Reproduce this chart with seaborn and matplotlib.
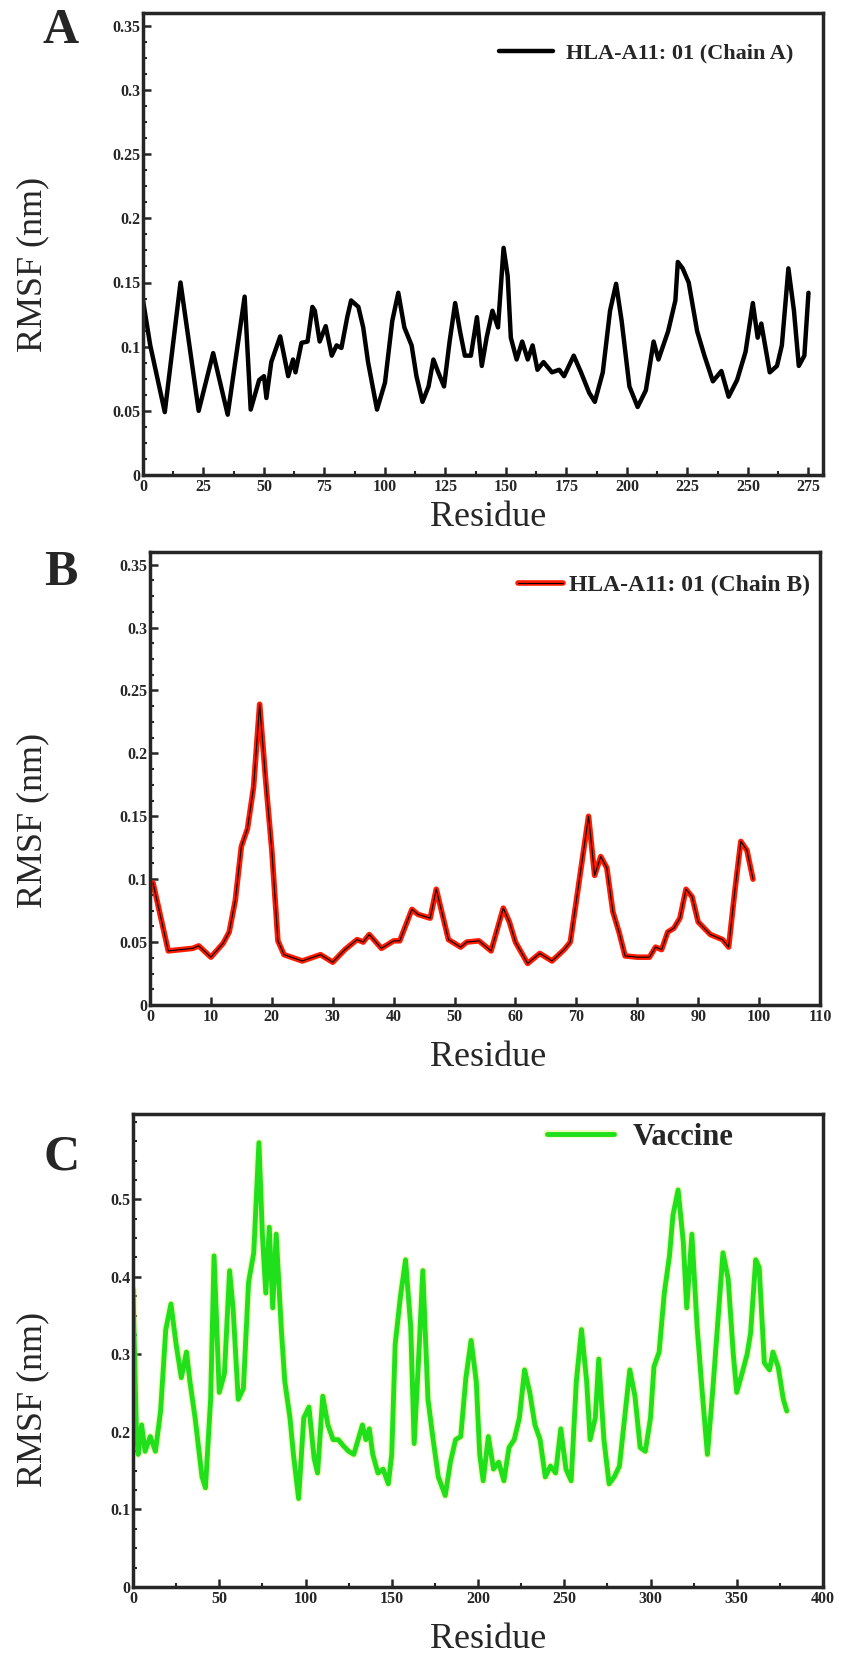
import numpy as np
import pandas as pd
import seaborn as sns
import matplotlib
matplotlib.use("Agg")
import matplotlib.pyplot as plt
from matplotlib.ticker import AutoMinorLocator
import matplotlib.patheffects as pe

# ---------------- data ----------------
a_res = [0, 3, 9, 15.5, 23, 29, 35, 42, 44.5, 48, 50, 51, 53, 56.7, 60, 62, 63, 65.5, 68, 70, 71, 73,
         75.5, 78, 80, 82, 84.4, 86, 89, 91, 93, 96.7, 100, 103, 105.5, 108, 111, 113, 115.5, 118,
         120, 122, 124.4, 126.7, 129, 131, 133, 135.5, 138, 140, 142, 144.4, 146.7, 149, 150.7, 152,
         154.4, 156.7, 159, 161, 163, 165.5, 169, 172, 174, 178, 181, 184.4, 186.7, 190, 193, 195.5,
         197.8, 201, 204.4, 207.8, 211, 213, 217, 220, 221, 223, 225.5, 229, 232, 235.5, 239, 242,
         245.5, 249, 252, 254, 255.5, 259, 262, 264, 266.7, 269, 271, 273.3, 275]
a_rmsf = [0.136, 0.101, 0.049, 0.150, 0.050, 0.095, 0.047, 0.139, 0.051, 0.074, 0.077, 0.060, 0.088,
          0.108, 0.077, 0.090, 0.080, 0.103, 0.104, 0.131, 0.128, 0.104, 0.116, 0.093, 0.101, 0.099,
          0.123, 0.136, 0.131, 0.115, 0.088, 0.051, 0.072, 0.120, 0.142, 0.115, 0.101, 0.077, 0.057,
          0.069, 0.090, 0.080, 0.069, 0.104, 0.134, 0.112, 0.093, 0.093, 0.123, 0.085, 0.107, 0.128,
          0.115, 0.177, 0.155, 0.107, 0.090, 0.104, 0.090, 0.101, 0.082, 0.088, 0.080, 0.082, 0.077,
          0.093, 0.080, 0.064, 0.057, 0.080, 0.128, 0.149, 0.120, 0.069, 0.053, 0.066, 0.104, 0.090,
          0.112, 0.136, 0.166, 0.161, 0.150, 0.112, 0.093, 0.073, 0.081, 0.061, 0.074, 0.096, 0.134,
          0.107, 0.118, 0.080, 0.085, 0.101, 0.161, 0.128, 0.085, 0.093, 0.142]

b_res = [0.5, 3, 5, 7, 8, 10, 12, 13, 14, 15, 16, 17, 18, 19, 20, 21, 22, 25, 28, 30, 32, 34, 35, 36,
         38, 40, 41, 43, 44, 46, 47, 48, 49, 51, 52, 54, 56, 58, 59, 60, 62, 64, 66, 68, 69, 70, 72,
         73, 74, 75, 76, 77, 78, 80, 82, 83, 84, 85, 86, 87, 88, 89, 90, 92, 94, 95, 96, 97, 98, 99]
b_rmsf = [0.097, 0.043, 0.044, 0.045, 0.047, 0.038, 0.049, 0.058, 0.083, 0.126, 0.140, 0.173, 0.239,
          0.178, 0.123, 0.051, 0.040, 0.035, 0.040, 0.034, 0.044, 0.052, 0.050, 0.056, 0.045, 0.051,
          0.051, 0.076, 0.072, 0.069, 0.092, 0.072, 0.052, 0.046, 0.050, 0.051, 0.043, 0.077, 0.066,
          0.050, 0.033, 0.041, 0.035, 0.044, 0.050, 0.083, 0.150, 0.103, 0.118, 0.109, 0.074, 0.058,
          0.039, 0.038, 0.038, 0.046, 0.044, 0.058, 0.061, 0.069, 0.092, 0.086, 0.066, 0.056, 0.052,
          0.046, 0.090, 0.130, 0.123, 0.100]

c_res = [0, 2, 3, 5, 7, 10, 13, 16, 19, 22, 25, 28, 31, 33, 36, 40, 42, 45, 47, 50, 53, 56, 58, 61,
         64, 67, 70, 73, 75, 77, 79, 81, 83, 86, 88, 91, 93, 96, 99, 102, 105, 107, 110, 113, 116,
         119, 122, 125, 128, 131, 133, 135, 137, 139, 142, 145, 148, 150, 152, 155, 158, 161, 163,
         166, 168, 171, 174, 177, 181, 184, 187, 190, 193, 196, 199, 201, 203, 206, 209, 212, 215,
         218, 221, 224, 227, 230, 233, 236, 239, 242, 245, 248, 251, 254, 257, 260, 263, 265, 268,
         270, 273, 276, 279, 282, 285, 288, 291, 294, 297, 300, 302, 305, 308, 311, 313, 316, 319,
         321, 324, 327, 330, 333, 336, 339, 342, 345, 348, 350, 353, 356, 358, 361, 363, 366, 369,
         371, 374, 377, 379]
c_rmsf = [0.384, 0.200, 0.171, 0.209, 0.175, 0.194, 0.175, 0.227, 0.332, 0.365, 0.313, 0.270, 0.303,
          0.265, 0.218, 0.142, 0.128, 0.242, 0.427, 0.251, 0.275, 0.408, 0.360, 0.242, 0.256, 0.393,
          0.431, 0.573, 0.455, 0.379, 0.464, 0.360, 0.455, 0.332, 0.265, 0.218, 0.171, 0.114, 0.218,
          0.232, 0.166, 0.147, 0.246, 0.209, 0.190, 0.190, 0.182, 0.175, 0.171, 0.194, 0.209, 0.190,
          0.204, 0.171, 0.147, 0.152, 0.133, 0.171, 0.313, 0.374, 0.422, 0.336, 0.185, 0.313, 0.408,
          0.242, 0.190, 0.142, 0.118, 0.161, 0.190, 0.194, 0.270, 0.318, 0.265, 0.171, 0.137, 0.194,
          0.152, 0.161, 0.137, 0.180, 0.190, 0.218, 0.280, 0.251, 0.209, 0.190, 0.142, 0.156, 0.147,
          0.204, 0.152, 0.137, 0.265, 0.332, 0.265, 0.190, 0.218, 0.294, 0.190, 0.133, 0.142, 0.156,
          0.218, 0.280, 0.246, 0.180, 0.175, 0.218, 0.284, 0.303, 0.379, 0.427, 0.479, 0.512, 0.445,
          0.360, 0.455, 0.336, 0.251, 0.171, 0.251, 0.341, 0.431, 0.398, 0.300, 0.251, 0.275, 0.300,
          0.327, 0.422, 0.412, 0.289, 0.280, 0.303, 0.284, 0.242, 0.227]

a_xticks = [0, 25, 50, 75, 100, 125, 150, 175, 200, 225, 250, 275]
b_xticks = [0, 10, 20, 30, 40, 50, 60, 70, 80, 90, 100, 110]
c_xticks = [0, 50, 100, 150, 200, 250, 300, 350, 400]
ab_yticks = [0, 0.05, 0.1, 0.15, 0.2, 0.25, 0.3, 0.35]
ab_ylabels = ["0", "0.05", "0.1", "0.15", "0.2", "0.25", "0.3", "0.35"]
c_yticks = [0, 0.1, 0.2, 0.3, 0.4, 0.5]
c_ylabels = ["0", "0.1", "0.2", "0.3", "0.4", "0.5"]

# ---------------- style ----------------
sns.set_style("ticks")
plt.rcParams["font.family"] = ["Liberation Serif", "DejaVu Serif"]
plt.rcParams["axes.linewidth"] = 2.5

W, H = 841, 1664
fig = plt.figure(figsize=(W / 100, H / 100), dpi=100)


def px_axes(l, t, r, b):
    return fig.add_axes([l / W, 1 - b / H, (r - l) / W, (b - t) / H])


axA = px_axes(143, 13, 823, 475)
axB = px_axes(150, 552, 820, 1005)
axC = px_axes(133, 1114, 823, 1587)

dfA = pd.DataFrame({"Residue": a_res, "RMSF": a_rmsf})
dfB = pd.DataFrame({"Residue": b_res, "RMSF": b_rmsf})
dfC = pd.DataFrame({"Residue": c_res, "RMSF": c_rmsf})

sns.lineplot(data=dfA, x="Residue", y="RMSF", ax=axA, color="black", lw=3.2,
             sort=False, estimator=None, label="HLA-A11: 01 (Chain A)")
sns.lineplot(data=dfB, x="Residue", y="RMSF", ax=axB, color="black", lw=0.8,
             sort=False, estimator=None, label="HLA-A11: 01 (Chain B)",
             path_effects=[pe.Stroke(linewidth=4, foreground="#ff1a00"), pe.Normal()])
sns.lineplot(data=dfC, x="Residue", y="RMSF", ax=axC, color="#1fe01a", lw=3.5,
             sort=False, estimator=None, label="Vaccine",
             path_effects=[pe.Stroke(linewidth=5.5, foreground="#d8f060", alpha=0.4), pe.Normal()])


def style(ax, xlim, ylim, xticks, yticks, ylabels, xminor, yminor,
          xl_pos, yl_pos, leg_anchor, leg_fs, hl, htp, letter, letter_pos):
    ax.set_xlim(*xlim)
    ax.set_ylim(*ylim)
    ax.set_xticks(xticks)
    ax.set_xticklabels([str(t) for t in xticks])
    ax.set_yticks(yticks)
    ax.set_yticklabels(ylabels)
    if xminor:
        ax.xaxis.set_minor_locator(AutoMinorLocator(xminor))
    if yminor:
        ax.yaxis.set_minor_locator(AutoMinorLocator(yminor))
    ax.tick_params(which="major", direction="in", length=6, width=1.8, labelsize=11.5, pad=3)
    ax.tick_params(which="minor", direction="in", length=3, width=1.5)
    ax.tick_params(axis="y", pad=2)
    for lab in ax.get_xticklabels() + ax.get_yticklabels():
        lab.set_fontweight("bold")
    for s in ax.spines.values():
        s.set_visible(True)
        s.set_linewidth(2.5)
    ax.set_xlabel("Residue", fontsize=26, va="center", ha="center")
    ax.set_ylabel("RMSF (nm)", fontsize=26, va="center", ha="center")
    ax.xaxis.set_label_coords(*xl_pos)
    ax.yaxis.set_label_coords(*yl_pos)
    ax.legend(loc="center left", bbox_to_anchor=leg_anchor, frameon=False,
              prop={"family": "Liberation Serif", "weight": "bold", "size": leg_fs},
              handlelength=hl, handletextpad=htp, borderpad=0, borderaxespad=0)
    fig.text(letter_pos[0] / W, 1 - letter_pos[1] / H, letter, fontsize=36,
             fontweight="bold", ha="center", va="center")


style(axA, (0, 281), (0, 0.36), a_xticks, ab_yticks, ab_ylabels, 2, 4,
      (0.507, -0.091), (-0.162, 0.455), (0.524, 0.913), 16, 2.4, 0.6, "A", (61, 31))
style(axB, (0, 110), (0, 0.36), b_xticks, ab_yticks, ab_ylabels, None, 4,
      (0.504, -0.115), (-0.175, 0.408), (0.549, 0.927), 17, 1.9, 0.25, "B", (61, 573))
style(axC, (0, 400), (0, 0.61), c_xticks, c_yticks, c_ylabels, 2, 4,
      (0.514, -0.112), (-0.145, 0.397), (0.60, 0.95), 22, 2.2, 0.6, "C", (62, 1157))

fig.savefig("out.png", dpi=100)
